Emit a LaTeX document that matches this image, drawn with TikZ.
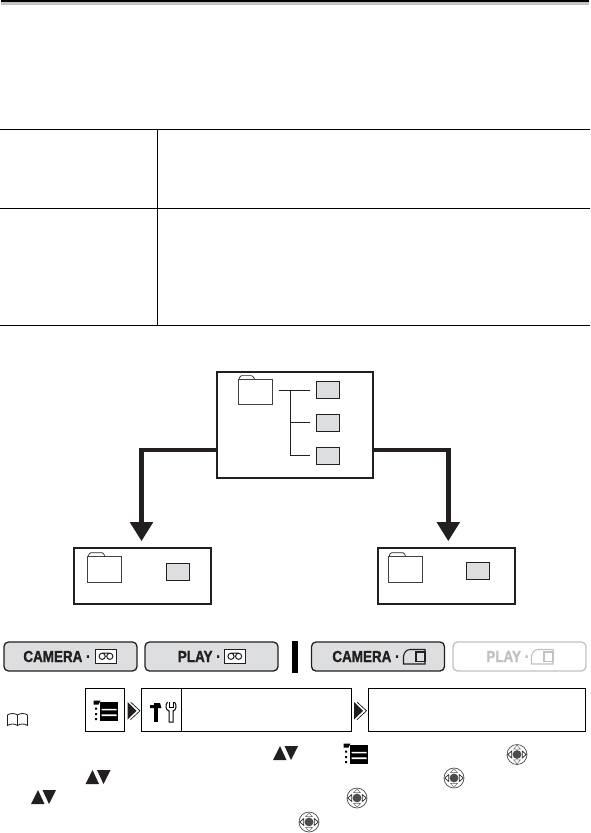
\documentclass[tikz,border=0pt]{standalone}
\usepackage{fontspec}
\newfontfamily\modefont[FakeStretch=0.84,FakeBold=1.3]{Liberation Sans}
\usetikzlibrary{arrows.meta}
\definecolor{inkblack}{HTML}{231F20}
\definecolor{filegray}{HTML}{DDDEDF}
\definecolor{fadedgray}{HTML}{BFC1C3}

\begin{document}
\begin{tikzpicture}[
  x=1pt,y=-1pt,
  line width=0.8pt,
  >=Stealth,
  framebox/.style={draw=inkblack,line width=1.6pt,fill=white,inner sep=0pt,minimum width=#1},
  framebox/.default=137pt,
  folderbody/.style={draw=black!75,line width=0.7pt,fill=white,inner sep=0pt,minimum width=34pt,minimum height=25.5pt},
  foldertab/.style={draw=inkblack,line width=0.7pt,rounded corners=1.2pt},
  filebox/.style={draw=inkblack,line width=0.7pt,fill=filegray,inner sep=0pt,minimum width=23pt,minimum height=17pt},
  bigarrow/.style={draw=inkblack,line width=4.8pt,shorten >=6pt,-{Triangle[length=19pt,width=22pt,fill=inkblack]}},
  treeline/.style={draw=inkblack,line width=0.7pt},
  modebutton/.style={draw=#1,line width=1.3pt,rounded corners=4.5pt,inner sep=0pt,minimum width=133pt,minimum height=29pt},
  modebutton/.default=inkblack,
  modelabel/.style={anchor=west,inner sep=0pt,font=\modefont\bfseries\fontsize{16}{16}\selectfont},
  menubox/.style={draw=black,line width=0.8pt,inner sep=0pt,minimum height=43pt},
  tapeicon/.pic={
    \draw[line width=0.8pt,fill=white] (-10.5,-7.3) rectangle (10.5,7.3);
    \draw[line width=1pt] (-3.8,0) circle (3.1) (3.8,0) circle (3.1) (-3.8,-3.1) -- (3.8,-3.1);
  },
  cardicon/.pic={
    \draw[line width=1.1pt] (-11,7) -- (-11,-1) .. controls (-10,-5) and (-8,-7.5) .. (-4,-7.5) -- (10.5,-7.5) -- (10.5,7) -- cycle;
    \draw[line width=1.1pt] (1.5,-5) rectangle (10.5,4.5);
  },
  menuicon/.pic={
    \fill (-12,-10.5) -- (-5,-10.5) -- (-7,-6.5) -- (-12,-6.5) -- cycle;
    \fill (-10.5,-3.5) rectangle (-8.3,-1.3) (-10.5,2) rectangle (-8.3,4.2) (-10.5,7) rectangle (-8.3,9.2);
    \fill (-5.5,-9) rectangle (12.5,9.5);
    \fill[white] (-4,-2.2) rectangle (11,-0.6) (-4,3.4) rectangle (11,5);
  },
  toolicon/.pic={
    % Hammer on the left, open wrench on the right.
    \fill (-13,-7) -- (-9,-7) -- (-9,-9) -- (-3,-9) -- (-1.5,-4) -- (-13,-4) -- cycle;
    \fill (-9.5,-4) rectangle (-5,10);
    \draw[line width=1pt] (4.5,-10) .. controls (2,-7) and (2.5,-2) .. (6,-1) -- (6,10) -- (10,10) -- (10,-1)
      .. controls (13.5,-2) and (14,-7) .. (11.5,-10);
    \draw[line width=1pt] (6,-10) -- (6,-5) -- (10,-5) -- (10,-10);
  },
  bookicon/.pic={
    \draw[line width=0.8pt] (0,5.5) .. controls (-3,3.5) and (-7,3.5) .. (-10,5.5) -- (-10,-5)
      .. controls (-7,-7) and (-3,-7) .. (0,-5) .. controls (3,-7) and (7,-7) .. (10,-5) -- (10,5.5)
      .. controls (7,3.5) and (3,3.5) .. (0,5.5) -- (0,-5);
  },
  chevron/.pic={
    \draw[line width=0.6pt] (3,-8.8) -- (12.5,0) -- (3,8.8);
    \fill[inkblack] (0,-8.8) -- (9,0) -- (0,8.8) -- cycle;
  },
  updown/.pic={
    \fill[inkblack] (-12.5,7) -- (-5.5,-7) -- (1,7) -- cycle;
    \fill[inkblack] (-1,-7) -- (12.5,-7) -- (5.5,7) -- cycle;
  },
  dialicon/.pic={
    \draw[line width=0.7pt,draw=black!70] (0,0) circle (10);
    \fill[black!70] (0,0) circle (4.4);
    \foreach \a in {0,180}
      \draw[rotate=\a,line width=0.7pt,draw=black!85,fill=white] (5.3,-3.4) -- (9.3,0) -- (5.3,3.4) -- cycle;
    \foreach \a in {90,270}
      \draw[rotate=\a,line width=0.5pt,draw=black!60,fill=white] (5.3,-3.4) -- (9.3,0) -- (5.3,3.4) -- cycle;
  }
]
  \useasboundingbox (0,0) rectangle (590,833);

  % Header band along the top edge.
  \fill[black] (1,0) rectangle (589,2.4);
  \fill[black!24] (1,2.4) rectangle (589,5.2);

  % Table rules.
  \foreach \y in {129,208,325}
    \draw[line width=1pt] (0,\y) -- (590,\y);
  \draw[line width=1pt] (157,129) -- (157,325);

  % Folder boxes, upper one first.
  \node[framebox=156pt,minimum height=106pt] (topbox) at (295,425) {};
  \node[framebox,minimum height=56pt] (leftbox) at (142.5,576) {};
  \node[framebox,minimum height=56pt] (rightbox) at (446.7,576) {};

  \node[folderbody] (topfolder) at (255.5,391.7) {};
  \node[folderbody] (leftfolder) at (104.7,569.3) {};
  \node[folderbody] (rightfolder) at (405.5,569.3) {};
  \draw[foldertab] (239,379) -- ++(1.5,-3.4) -- ++(12,0) -- ++(2,3.4);
  \draw[foldertab] (88.5,556) -- ++(1,-3.2) -- ++(14,0) -- ++(1,3.2);
  \draw[foldertab] (389.3,556) -- ++(1,-3.2) -- ++(14,0) -- ++(1,3.2);

  \node[filebox] (fileone) at (328,390) {};
  \node[filebox] (filetwo) at (328,422.5) {};
  \node[filebox] (filethree) at (328,455.5) {};
  \node[filebox] (fileleft) at (177.5,571.5) {};
  \node[filebox] (fileright) at (478,571.3) {};

  % Tree from the folder to its three files.
  \coordinate (treefork) at (290.5,390);
  \draw[treeline,shorten <=6pt,shorten >=6pt] (topfolder.east |- fileone.west) -- (fileone.west);
  \draw[treeline,shorten >=6pt] (treefork) |- (filetwo.west);
  \draw[treeline,shorten >=6pt] (treefork) |- (filethree.west);

  % Thick arrows down to the lower boxes.
  \draw[bigarrow] ([yshift=-25pt]topbox.west) -| ([xshift=-1pt]leftbox.north);
  \draw[bigarrow] ([yshift=-25pt]topbox.east) -| ([xshift=1.6pt]rightbox.north);

  % Mode buttons.
  \node[modebutton,fill=filegray] (btncamtape) at (70.5,656.5) {};
  \node[modebutton,fill=filegray] (btnplaytape) at (211.5,656.5) {};
  \node[modebutton,fill=filegray] (btncamcard) at (378,656.5) {};
  \node[modebutton=fadedgray] (btnplaycard) at (519.5,656.5) {};
  \fill[black] (292,641) rectangle (298,673);

  \node[modelabel,text=inkblack] (txtcamtape) at (23,656.5) {CAMERA ·};
  \node[modelabel,text=inkblack] (txtplaytape) at (177.5,656.5) {PLAY ·};
  \node[modelabel,text=inkblack] (txtcamcard) at (332,656.5) {CAMERA ·};
  \node[modelabel,text=fadedgray] (txtplaycard) at (486,656.5) {PLAY ·};
  \pic[color=inkblack] at (106,656.3) {tapeicon};
  \pic[color=inkblack] at (234.8,656.3) {tapeicon};
  \pic[color=inkblack] at (414.5,657) {cardicon};
  \pic[color=fadedgray] at (542.5,657) {cardicon};

  % Menu path.
  \pic[color=inkblack] at (17.5,720) {bookicon};
  \node[menubox,minimum width=38.5pt] (menubtn) at (105,710) {};
  \node[menubox,minimum width=210pt] (setupbox) at (246.5,710) {};
  \node[menubox,minimum width=217pt] (optionbox) at (476.5,710) {};
  \draw[line width=0.8pt] (181,688.5) -- (181,731.5);
  \pic at (105.5,711) {menuicon};
  \pic at (163,712) {toolicon};
  \pic at (127.5,710.8) {chevron};
  \pic at (354,710.8) {chevron};

  % Symbols left standing in the text lines.
  \pic at (285.5,753) {updown};
  \pic at (98,777) {updown};
  \pic at (43.5,797) {updown};
  \pic at (355.5,754) {menuicon};
  \pic at (517,754.5) {dialicon};
  \pic at (454,778) {dialicon};
  \pic at (357,798) {dialicon};
  \pic at (309,822) {dialicon};
\end{tikzpicture}
\end{document}
